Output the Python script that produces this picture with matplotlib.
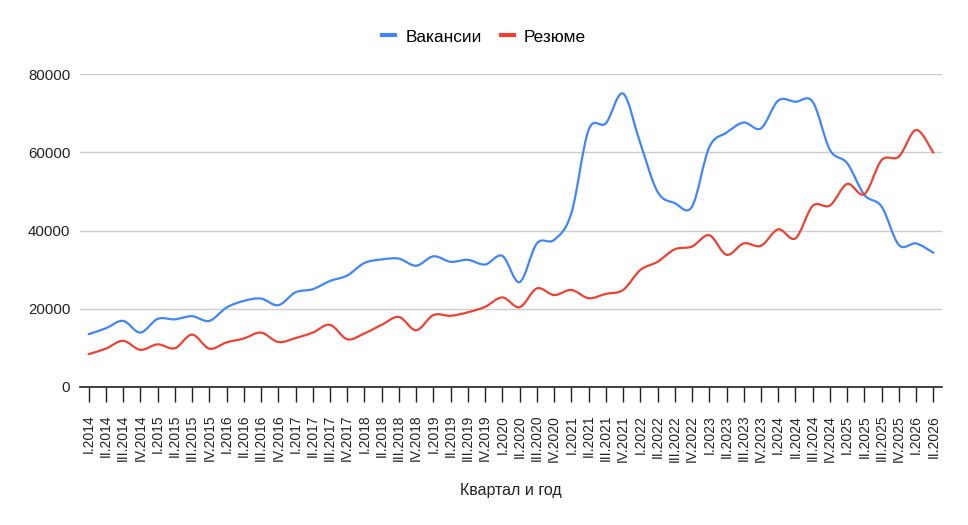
import numpy as np
import matplotlib
matplotlib.use("Agg")
from matplotlib import pyplot as plt
from matplotlib.path import Path
from matplotlib.patches import PathPatch
from matplotlib.lines import Line2D

plt.rcParams['font.family'] = ['Liberation Sans', 'DejaVu Sans']

# quarters I.2014 .. II.2026
roman = ["I", "II", "III", "IV"]
quarters = [f"{roman[q]}.{y}" for y in range(2014, 2027) for q in range(4)][:50]

vacancies = [13500, 15000, 16900, 13900, 17400, 17300, 18100, 16900, 20300, 22000,
             22600, 20900, 24200, 25000, 27100, 28500, 31700, 32600, 32800, 31000,
             33400, 32000, 32500, 31300, 33500, 26800, 36700, 37600, 44400, 65700,
             67400, 75000, 62300, 49900, 47000, 46100, 61300, 65000, 67600, 66100,
             73200, 72900, 72900, 60600, 57200, 49100, 46100, 36300, 36700, 34300]

resumes = [8400, 9800, 11800, 9500, 10900, 9900, 13400, 9800, 11400, 12400,
           13900, 11500, 12500, 13900, 15900, 12200, 13700, 15900, 17900, 14500,
           18400, 18200, 19100, 20500, 22900, 20400, 25200, 23500, 24800, 22700,
           23800, 24800, 29900, 32000, 35200, 35900, 38800, 33800, 36700, 36100,
           40300, 38000, 46300, 46400, 51900, 49300, 58000, 58900, 65700, 59900]

series = [("Вакансии", vacancies, "#4285F4"), ("Резюме", resumes, "#EA4335")]


def smooth_path(xs, ys, k=1 / 6):
    # Catmull-Rom through the data points, as cubic bezier segments
    pts = np.column_stack([xs, ys]).astype(float)
    verts = [pts[0]]
    codes = [Path.MOVETO]
    n = len(pts)
    for i in range(n - 1):
        p0 = pts[i - 1] if i > 0 else pts[i]
        p1 = pts[i]
        p2 = pts[i + 1]
        p3 = pts[i + 2] if i + 2 < n else pts[i + 1]
        c1 = p1 + (p2 - p0) * k
        c2 = p2 - (p3 - p1) * k
        verts += [c1, c2, p2]
        codes += [Path.CURVE4] * 3
    return Path(verts, codes)


fig = plt.figure(figsize=(9.68, 5.25), dpi=100)
ax = fig.add_axes([80 / 968, 1 - 387 / 525, 862 / 968, 313 / 525])

x = np.arange(len(quarters))
for name, vals, col in series:
    patch = PathPatch(smooth_path(x, vals), facecolor="none", edgecolor=col,
                      lw=1.6, capstyle="round", joinstyle="round")
    ax.add_patch(patch)

ax.set_xlim(-0.5, len(quarters) - 0.5)
ax.set_ylim(0, 80000)
ax.set_yticks(np.arange(0, 80001, 20000))
ax.set_yticklabels([str(v) for v in range(0, 80001, 20000)], fontsize=10.8, color="#222222")
ax.set_xticks(x)
ax.set_xticklabels(quarters, rotation=90, fontsize=10, color="#222222")
ax.tick_params(axis="x", length=11, width=1, color="#222222", pad=9)
ax.tick_params(axis="y", length=0, pad=7)
ax.grid(axis="y", color="#cccccc", lw=1)
ax.set_axisbelow(True)
for s in ["top", "right", "left"]:
    ax.spines[s].set_visible(False)
ax.spines["bottom"].set_color("#222222")
ax.spines["bottom"].set_linewidth(1.2)
ax.spines["bottom"].set_zorder(3)

handles = [Line2D([], [], color=c, lw=3) for _, _, c in series]
fig.legend(handles, [n for n, _, _ in series], loc="center",
           bbox_to_anchor=(484 / 968, 1 - 37 / 525), ncol=2, frameon=False,
           fontsize=12.4, handlelength=0.75, handletextpad=0.6, columnspacing=1.1)

fig.text(511 / 968, 1 - 490 / 525, "Квартал и год", ha="center", va="center",
         fontsize=11.5, color="#222222")

fig.savefig("out.png", dpi=100)
